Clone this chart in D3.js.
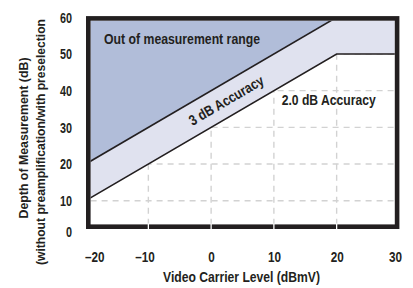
<!DOCTYPE html>
<html>
<head>
<meta charset="utf-8">
<script src="https://cdn.jsdelivr.net/npm/d3@7"></script>
<style>
  html, body { margin: 0; padding: 0; background: #fff; }
  svg { display: block; }
  text { font-family: "Liberation Sans", Arial, sans-serif; font-weight: bold; fill: #231f20; }
</style>
</head>
<body>
<svg id="chart" width="413" height="288"></svg>
<script>
// ---- data ----
const xTicks = [-20, -10, 0, 10, 20, 30];
const yTicks = [0, 10, 20, 30, 40, 50, 60];
const xGrid = [-10, 0, 10, 20];
const yGrid = [10, 20, 30, 40, 50];
// boundary of measurement range (upper line)
const upperLine = [{x: -20, y: 20}, {x: 20, y: 60}];
// boundary of 2.0 dB accuracy (lower line)
const lowerLine = [{x: -20, y: 10}, {x: 20, y: 50}, {x: 30, y: 50}];
const labels = {
  outOfRange: "Out of measurement range",
  acc3: "3 dB Accuracy",
  acc2: "2.0 dB Accuracy",
  xTitle: "Video Carrier Level (dBmV)",
  yTitle1: "Depth of Measurement (dB)",
  yTitle2: "(without preamplification/with preselection"
};

(function () {
// ---- layout ----
const svg = d3.select("#chart");
const x = d3.scaleLinear().domain([-20, 30]).range([85.6, 399.4]);
const y = d3.scaleLinear().domain([0, 60]).range([237.4, 17.3]);
const frameL = x(-20) + 0.4, frameR = x(30), frameT = y(60) - 1.2, frameB = 229;
const fw = 4.6;
const innerL = frameL + fw, innerR = frameR - fw, innerT = frameT + fw, innerB = frameB - fw;
const ink = "#231f20";

// condensed-type helper: squeeze text horizontally
function condense(sel, k) {
  sel.each(function () {
    const w = this.getComputedTextLength();
    d3.select(this).attr("textLength", w * k).attr("lengthAdjust", "spacingAndGlyphs");
  });
}
function fitTo(sel, w) {
  sel.attr("textLength", w).attr("lengthAdjust", "spacingAndGlyphs");
}

const defs = svg.append("defs");
defs.append("clipPath").attr("id", "clip")
  .append("rect").attr("x", innerL).attr("y", innerT)
  .attr("width", innerR - innerL).attr("height", innerB - innerT);

const plot = svg.append("g").attr("clip-path", "url(#clip)");

// gridlines
plot.append("g").selectAll("line").data(xGrid).join("line")
  .attr("x1", d => x(d)).attr("x2", d => x(d))
  .attr("y1", innerT).attr("y2", innerB)
  .attr("stroke", "#d2d2d2").attr("stroke-width", 1.4).attr("stroke-dasharray", "6,5");
plot.append("g").selectAll("line").data(yGrid).join("line")
  .attr("y1", d => y(d)).attr("y2", d => y(d))
  .attr("x1", innerL).attr("x2", innerR)
  .attr("stroke", "#d2d2d2").attr("stroke-width", 1.4).attr("stroke-dasharray", "6,5");

// regions
const pathGen = d3.line().x(d => x(d.x)).y(d => y(d.y));
const outPoly = upperLine.concat([{x: -20, y: 60}]);
const lightPoly = lowerLine.concat([{x: 30, y: 60}], upperLine.slice().reverse());
plot.append("path").attr("d", pathGen(lightPoly) + "Z").attr("fill", "#e0e2ef");
plot.append("path").attr("d", pathGen(outPoly) + "Z").attr("fill", "#b1bdd9");

// lines
plot.append("path").attr("d", pathGen(upperLine)).attr("fill", "none").attr("stroke", ink).attr("stroke-width", 1.6);
plot.append("path").attr("d", pathGen(lowerLine)).attr("fill", "none").attr("stroke", ink).attr("stroke-width", 1.6);

// frame
svg.append("rect")
  .attr("x", frameL + fw / 2).attr("y", frameT + fw / 2)
  .attr("width", frameR - frameL - fw).attr("height", frameB - frameT - fw)
  .attr("fill", "none").attr("stroke", ink).attr("stroke-width", fw);

// white tick notches on bottom frame
svg.append("g").selectAll("line").data(xGrid).join("line")
  .attr("x1", d => x(d)).attr("x2", d => x(d))
  .attr("y1", innerB - 1).attr("y2", frameB)
  .attr("stroke", "#fff").attr("stroke-width", 1.3);

// x axis labels
const fmt = d => (d < 0 ? "\u2013" + Math.abs(d) : String(d));
const xAxis = d3.axisBottom(x).tickValues(xTicks).tickFormat(fmt).tickSize(0).tickPadding(0);
const gx = svg.append("g").attr("transform", `translate(0,${frameB})`).call(xAxis);
gx.select(".domain").remove();
gx.attr("font-family", null).attr("font-size", null);
gx.selectAll("text")
  .attr("y", 33.3)
  .attr("dy", 0)
  .attr("fill", ink)
  .style("font-size", "15px")
  .attr("text-anchor", (d, i) => i === 0 ? "start" : (i === xTicks.length - 1 ? "end" : "middle"))
  .attr("dx", (d, i) => i === 0 ? -1.2 : (i === xTicks.length - 1 ? 2.2 : (d < 0 ? -3.8 : 0)))
  .call(condense, 0.78);

// y axis labels
const yAxis = d3.axisLeft(y).tickValues(yTicks).tickFormat(fmt).tickSize(0).tickPadding(0);
const gy = svg.append("g").attr("transform", `translate(72,0)`).call(yAxis);
gy.select(".domain").remove();
gy.attr("font-family", null).attr("font-size", null);
gy.selectAll(".tick").attr("transform", d => `translate(0,${Math.min(y(d), frameB + 2.7)})`);
gy.selectAll("text").attr("x", 0).attr("dy", "0.36em").attr("fill", ink)
  .style("font-size", "15px").call(condense, 0.72);

// region labels
svg.append("text").attr("x", 182).attr("y", 44.3).attr("text-anchor", "middle")
  .style("font-size", "15px").text(labels.outOfRange).call(fitTo, 156);
const ang = Math.atan2(y(20) - y(60), x(20) - x(-20)) * 180 / Math.PI;
const ax = x(2.4), ay = y(37.4);
svg.append("text").attr("transform", `translate(${ax},${ay}) rotate(${-Math.abs(ang)})`)
  .attr("text-anchor", "middle").attr("dy", "0.36em")
  .style("font-size", "14.5px").text(labels.acc3).call(fitTo, 84);
svg.append("text").attr("x", 328.7).attr("y", 105.3).attr("text-anchor", "middle")
  .style("font-size", "14.5px").text(labels.acc2).call(fitTo, 94);

// axis titles
svg.append("text").attr("x", 241.5).attr("y", 282).attr("text-anchor", "middle")
  .style("font-size", "14px").text(labels.xTitle).call(fitTo, 157);
svg.append("text").attr("transform", "translate(27.5,138) rotate(-90)").attr("text-anchor", "middle")
  .style("font-size", "13.5px").text(labels.yTitle1).call(fitTo, 161);
svg.append("text").attr("transform", "translate(45,142) rotate(-90)").attr("text-anchor", "middle")
  .style("font-size", "13px").text(labels.yTitle2).call(fitTo, 246);
})();
</script>
</body>
</html>
